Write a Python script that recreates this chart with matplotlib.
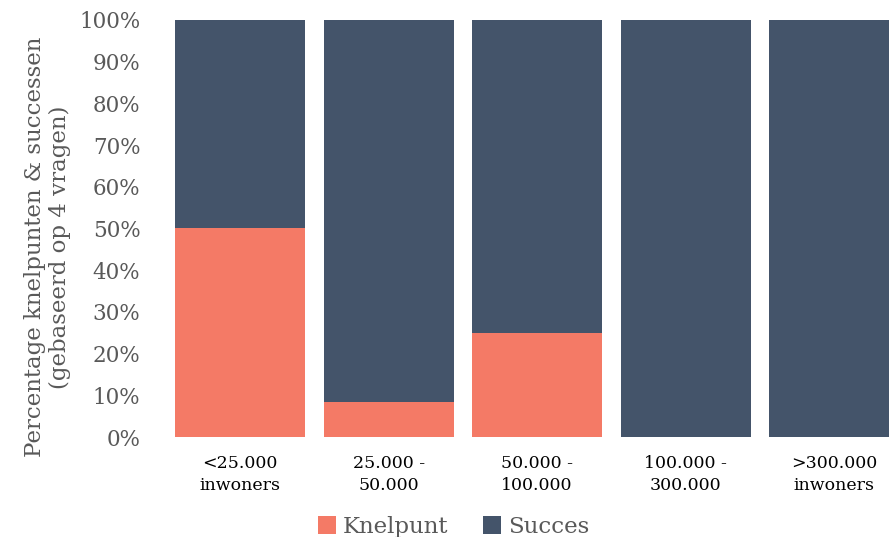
import numpy as np
import matplotlib.pyplot as plt

categories = ['<25.000\ninwoners', '25.000 -\n50.000', '50.000 -\n100.000',
              '100.000 -\n300.000', '>300.000\ninwoners']
knelpunt = [50, 8.3, 25, 0, 0]
succes = [50, 91.7, 75, 100, 100]

plt.rcParams['font.family'] = ['DejaVu Serif']

fig = plt.figure(figsize=(8.89, 5.37), dpi=100)
ax = fig.add_axes([0.197, 0.186, 0.803, 0.777])

x = np.arange(len(categories))
w = 0.875
ax.bar(x, knelpunt, w, color='#F47A66', label='Knelpunt')
ax.bar(x, succes, w, bottom=knelpunt, color='#44546A', label='Succes')

ax.set_xlim(-0.4375, 4.37)
ax.set_ylim(0, 100)
ax.set_yticks(np.arange(0, 101, 10))
ax.set_yticklabels([f'{v}%' for v in range(0, 101, 10)], color='#595959', fontsize=15.5)
ax.set_xticks(x)
ax.set_xticklabels(categories, fontsize=12.5, color='black', linespacing=1.35)
ax.tick_params(length=0)
ax.tick_params(axis='y', pad=25)
ax.tick_params(axis='x', pad=13)
for s in ax.spines.values():
    s.set_visible(False)

ax.set_ylabel('Percentage knelpunten & successen\n(gebaseerd op 4 vragen)',
              fontsize=16.5, color='#595959', linespacing=1.15)
ax.yaxis.set_label_coords(-0.146, 0.456)

fig.legend(loc='lower center', bbox_to_anchor=(0.51, -0.04), ncol=2, frameon=False,
           fontsize=16.5, labelcolor='#595959', handlelength=0.8, handleheight=0.8,
           handletextpad=0.3, columnspacing=1.5)

plt.savefig('out.png')
